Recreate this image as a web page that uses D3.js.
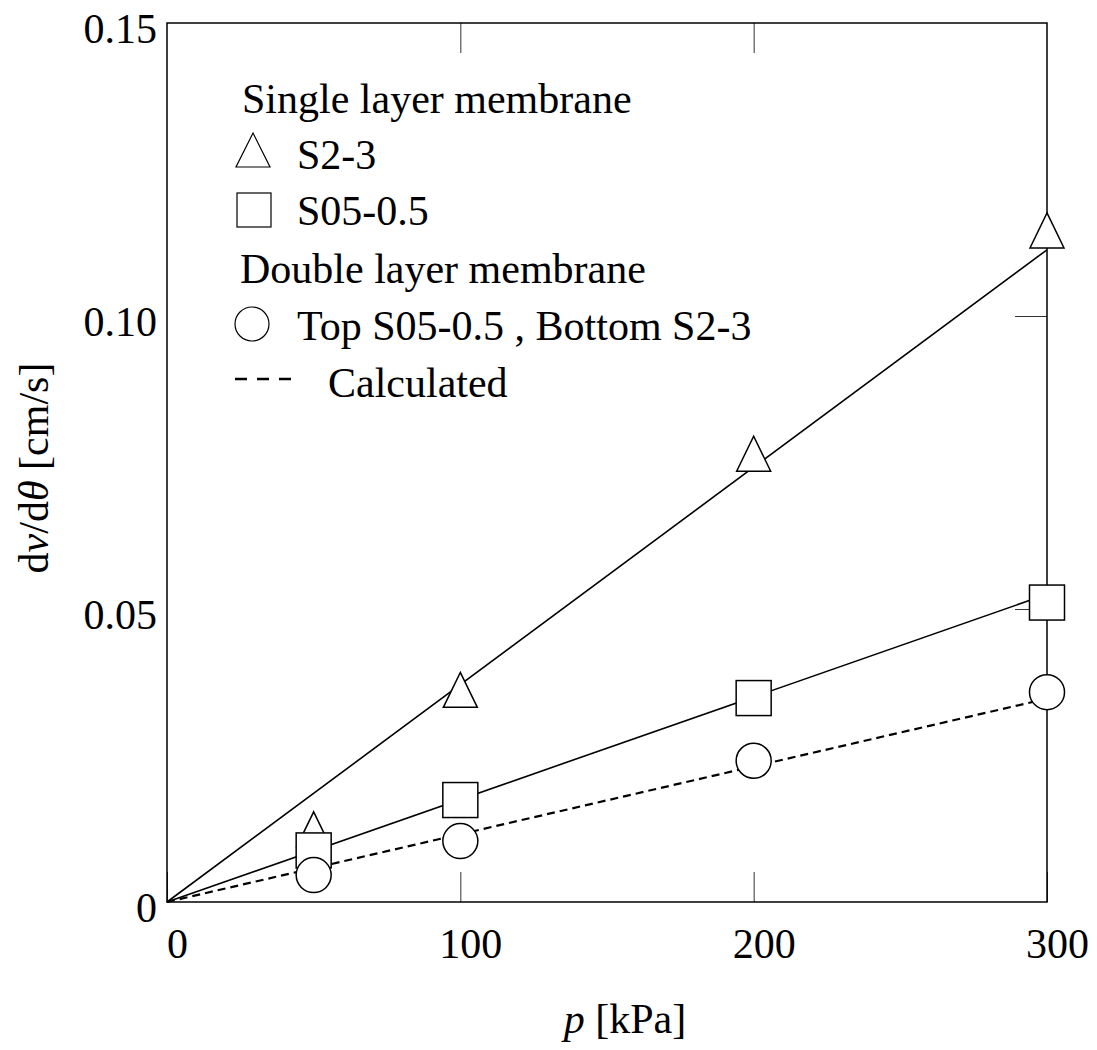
<!DOCTYPE html>
<html>
<head>
<meta charset="utf-8">
<script src="https://cdn.jsdelivr.net/npm/d3@7"></script>
<style>
    body { margin: 0; background: #fff; }
    svg text { font-family: "Liberation Serif", "Times New Roman", "DejaVu Serif", serif; }
</style>
</head>
<body>
<div id="chart"></div>
<script>
// pressure [kPa] and flux values
const pressures = [50, 100, 200, 300];
const fluxS23 = [0.0124, 0.0362, 0.0765, 0.1146];
const fluxS05 = [0.0088, 0.0174, 0.0348, 0.0511];
const fluxDouble = [0.0046, 0.0104, 0.0241, 0.0358];

// straight lines through the origin
const linePressures = [0, 300];
const fitS23 = [0, 0.1113];
const fitS05 = [0, 0.0525];
const calcDouble = [0, 0.0347];

const xTicks = [0, 100, 200, 300];
const yTicks = [0, 0.05, 0.10, 0.15];

const serif = "Liberation Serif, Times New Roman, DejaVu Serif, serif";

document.addEventListener("DOMContentLoaded", function () {
    const width = 1097;
    const height = 1050;
    const margin = { top: 23, right: 50, bottom: 148, left: 167 };
    const chartWidth = width - margin.left - margin.right;
    const chartHeight = height - margin.top - margin.bottom;

    const svg = d3.select("#chart").append("svg")
        .attr("width", width)
        .attr("height", height)
        .attr("font-family", serif);

    svg.append("rect").attr("width", width).attr("height", height).attr("fill", "#fff");

    const x = d3.scaleLinear().domain([0, 300]).range([0, chartWidth]);
    const y = d3.scaleLinear().domain([0, 0.15]).range([chartHeight, 0]);

    const chartArea = svg.append("g")
        .attr("transform", `translate(${margin.left}, ${margin.top})`);

    // axes (inner ticks)
    const bottomAxis = chartArea.append("g")
        .attr("transform", `translate(0, ${chartHeight})`)
        .call(d3.axisBottom(x).tickValues(xTicks).tickSize(-30).tickFormat(d3.format("d")));
    bottomAxis.selectAll("text")
        .attr("dy", null)
        .attr("y", 56)
        .attr("x", 10);

    const leftAxis = chartArea.append("g")
        .call(d3.axisLeft(y).tickValues(yTicks).tickSize(0)
            .tickFormat(d => d === 0 ? "0" : d3.format(".2f")(d)));
    leftAxis.selectAll("text")
        .attr("dy", null)
        .attr("x", -10)
        .attr("y", 19);

    chartArea.append("g")
        .attr("transform", `translate(${chartWidth}, 0)`)
        .call(d3.axisRight(y).tickValues([0.05, 0.10]).tickSize(-32).tickFormat(""));

    chartArea.append("g")
        .call(d3.axisTop(x).tickValues([100, 200]).tickSize(-30).tickFormat(""));

    chartArea.selectAll(".domain").remove();
    chartArea.selectAll("g").attr("font-family", serif).attr("font-size", 42);
    chartArea.selectAll(".tick line").attr("stroke", "#333").attr("stroke-width", 1);
    chartArea.selectAll(".tick text").attr("fill", "#000");

    chartArea.append("rect")
        .attr("width", chartWidth)
        .attr("height", chartHeight)
        .attr("fill", "none")
        .attr("stroke", "#000")
        .attr("stroke-width", 1.5);

    // lines
    const line = d3.line()
        .x(d => x(d[0]))
        .y(d => y(d[1]));

    const lineSets = [
        { values: fitS23, dash: null, w: 1.6 },
        { values: fitS05, dash: null, w: 1.6 },
        { values: calcDouble, dash: "8,5", w: 2.2 }
    ];
    lineSets.forEach(s => {
        chartArea.append("path")
            .datum(linePressures.map((p, i) => [p, s.values[i]]))
            .attr("d", line)
            .attr("fill", "none")
            .attr("stroke", "#000")
            .attr("stroke-width", s.w)
            .attr("stroke-dasharray", s.dash);
    });

    // markers
    const half = 17.5;
    const triangle = (cx, cy) => `M${cx},${cy - half}L${cx + 17},${cy + half}L${cx - 17},${cy + half}Z`;

    chartArea.append("g")
        .selectAll("path")
        .data(pressures.map((p, i) => [p, fluxS23[i]]))
        .enter().append("path")
        .attr("d", d => triangle(x(d[0]), y(d[1])))
        .attr("fill", "#fff")
        .attr("stroke", "#000")
        .attr("stroke-width", 1.5);

    chartArea.append("g")
        .selectAll("rect")
        .data(pressures.map((p, i) => [p, fluxS05[i]]))
        .enter().append("rect")
        .attr("x", d => x(d[0]) - half)
        .attr("y", d => y(d[1]) - half)
        .attr("width", half * 2)
        .attr("height", half * 2)
        .attr("fill", "#fff")
        .attr("stroke", "#000")
        .attr("stroke-width", 1.5);

    chartArea.append("g")
        .selectAll("circle")
        .data(pressures.map((p, i) => [p, fluxDouble[i]]))
        .enter().append("circle")
        .attr("cx", d => x(d[0]))
        .attr("cy", d => y(d[1]))
        .attr("r", half)
        .attr("fill", "#fff")
        .attr("stroke", "#000")
        .attr("stroke-width", 1.5);

    // axis titles
    const xTitle = svg.append("text")
        .attr("x", 625)
        .attr("y", 1033)
        .attr("text-anchor", "middle")
        .attr("font-size", 42);
    xTitle.append("tspan").attr("font-style", "italic").text("p");
    xTitle.append("tspan").text(" [kPa]");

    const yTitle = svg.append("text")
        .attr("transform", "translate(48, 468) rotate(-90)")
        .attr("text-anchor", "middle")
        .attr("font-size", 42);
    yTitle.append("tspan").text("d");
    yTitle.append("tspan").attr("font-style", "italic").text("v");
    yTitle.append("tspan").text("/d");
    yTitle.append("tspan").attr("font-style", "italic").text("\u03B8");
    yTitle.append("tspan").text(" [cm/s]");

    // legend
    const legend = svg.append("g").attr("font-size", 42);

    legend.append("text").attr("x", 242).attr("y", 113).text("Single layer membrane");

    legend.append("path")
        .attr("d", `M253,133L270,167L236,167Z`)
        .attr("fill", "#fff").attr("stroke", "#000").attr("stroke-width", 1.2);
    legend.append("text").attr("x", 297).attr("y", 169).text("S2-3");

    legend.append("rect")
        .attr("x", 237).attr("y", 193).attr("width", 34).attr("height", 34)
        .attr("fill", "#fff").attr("stroke", "#000").attr("stroke-width", 1.2);
    legend.append("text").attr("x", 297).attr("y", 225).text("S05-0.5");

    legend.append("text").attr("x", 240).attr("y", 283).text("Double layer membrane");

    legend.append("circle")
        .attr("cx", 252).attr("cy", 324).attr("r", 17)
        .attr("fill", "#fff").attr("stroke", "#000").attr("stroke-width", 1.2);
    legend.append("text").attr("x", 297).attr("y", 340).text("Top S05-0.5 , Bottom S2-3");

    legend.append("line")
        .attr("x1", 235).attr("x2", 291).attr("y1", 379).attr("y2", 379)
        .attr("stroke", "#000").attr("stroke-width", 2.5).attr("stroke-dasharray", "12,10");
    legend.append("text").attr("x", 328).attr("y", 397).text("Calculated");
});
</script>
</body>
</html>
